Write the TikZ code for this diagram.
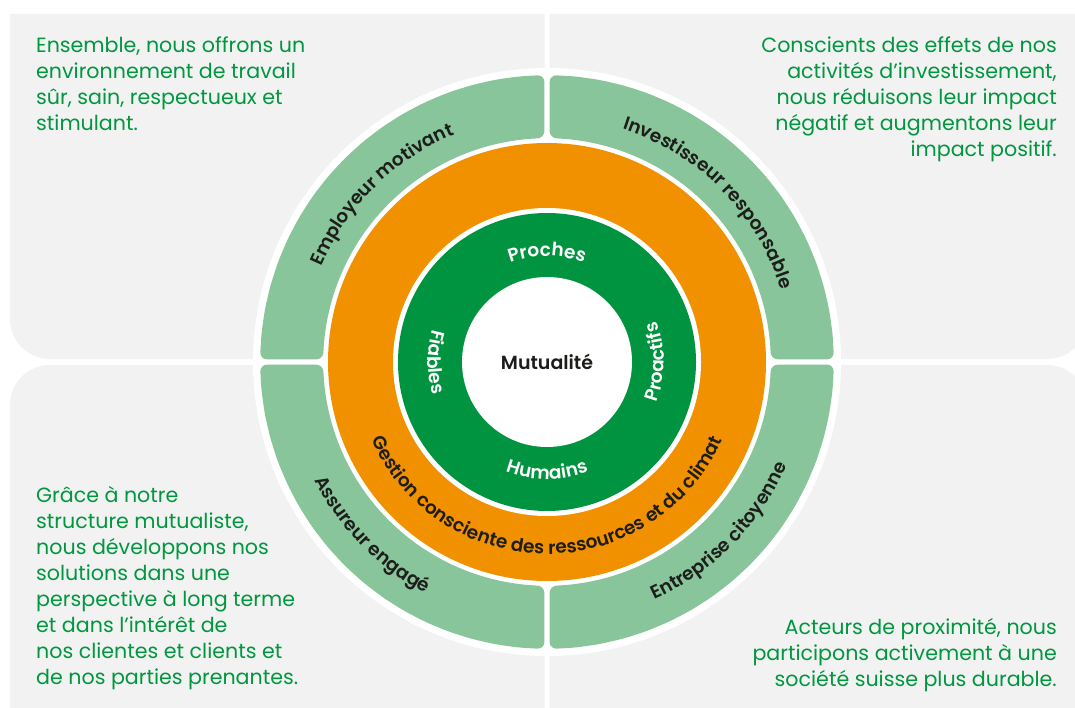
\documentclass[tikz,border=0pt]{standalone}
\usepackage{fontspec}
\setmainfont{Poppins}
\IfFontExistsTF{Poppins SemiBold}{\newfontfamily\semib{Poppins SemiBold}}{%
  \IfFontExistsTF{Poppins Medium}{\newfontfamily\semib{Poppins Medium}}{\newcommand\semib{\bfseries}}}
\usetikzlibrary{decorations.text}
\definecolor{greyq}{HTML}{F2F2F2}
\definecolor{lgreen}{HTML}{88C59A}
\definecolor{dgreen}{HTML}{009440}
\definecolor{orng}{HTML}{F29100}
\definecolor{txtgreen}{HTML}{00973F}
\definecolor{darktxt}{HTML}{1D1D1B}
\newcommand\labfont{\color{darktxt}\semib\fontsize{18.5}{18.5}\selectfont}
\newcommand\ringfont{\color{white}\semib\fontsize{18.5}{18.5}\selectfont}
\newcommand\lgsector[4]{%
  \fill[lgreen, rounded corners=7pt]
    plot[domain=#1:#2, samples=19, variable=\t] ({547+287*cos(\t)},{-362+287*sin(\t)})
    -- plot[domain=#3:#4, samples=19, variable=\t] ({547+224*cos(\t)},{-362+224*sin(\t)})
    -- cycle;}
\begin{document}
\begin{tikzpicture}[x=1pt,y=1pt,
  body/.style={font=\fontsize{20.6}{26}\selectfont, text=txtgreen, inner sep=0pt},
  arctext/.style={decorate, decoration={text along path, text align=center, text={#1}}}]
\useasboundingbox (0,0) rectangle (1075,-708);
\clip (0,0) rectangle (1075,-708);
\fill[white] (0,0) rectangle (1075,-708);
% grey quadrants
\fill[greyq] (544.5,-14) -- (544.5,-359) -- (50,-359) arc[start angle=270, end angle=180, radius=40] -- (10,-14) -- cycle;
\fill[greyq] (549.5,-14) -- (1087,-14) -- (1087,-319) arc[start angle=0, end angle=-90, radius=40] -- (549.5,-359) -- cycle;
\fill[greyq] (544.5,-365) -- (544.5,-720) -- (10,-720) -- (10,-405) arc[start angle=180, end angle=90, radius=40] -- cycle;
\fill[greyq] (549.5,-365) -- (1047,-365) arc[start angle=90, end angle=0, radius=40] -- (1087,-720) -- (549.5,-720) -- cycle;
% rings
\coordinate (C) at (547,-362);
\fill[white] (C) circle[radius=294];
\lgsector{90.52}{179.48}{179.34}{90.66}
\lgsector{0.52}{89.48}{89.34}{0.66}
\lgsector{180.52}{269.48}{269.34}{180.66}
\lgsector{270.52}{359.48}{359.34}{270.66}
\fill[orng] (C) circle[radius=219];
\fill[white] (C) circle[radius=154];
\fill[dgreen] (C) circle[radius=149];
\fill[white] (C) circle[radius=85];
\node[font=\semib\fontsize{19}{19}\selectfont, text=darktxt] (mut) at (C) {Mutualité};
% curved labels
\begin{scope}[shift={(547,-362)}]
\path[arctext={|\labfont|Employeur motivant}] (179.6:245) arc[start angle=179.6, end angle=89.6, radius=245];
\path[arctext={|\labfont|Investisseur responsable}] (104.6:245) arc[start angle=104.6, end angle=-15.4, radius=245];
\path[arctext={|\labfont|Assureur engagé}] (164.6:261) arc[start angle=164.6, end angle=284.6, radius=261];
\path[arctext={|\labfont|Entreprise citoyenne}] (255.5:261) arc[start angle=255.5, end angle=375.5, radius=261];
\path[arctext={|\labfont|Gestion consciente des ressources et du climat}] (170:192) arc[start angle=170, end angle=370, radius=192];
\path[arctext={|\ringfont|Proches}] (150:106) arc[start angle=150, end angle=30, radius=106];
\path[arctext={|\ringfont|Humains}] (210:117) arc[start angle=210, end angle=330, radius=117];
\path[arctext={|\ringfont|Fiables}] (120:119) arc[start angle=120, end angle=240, radius=119];
\path[arctext={|\ringfont|Proactifs}] (-60:117) arc[start angle=-60, end angle=60, radius=117];
\end{scope}
% body texts (anchor on last baseline)
\node[body, anchor=base west, align=left] (tl) at (36,-131) {Ensemble, nous offrons un\\environnement de travail\\sûr, sain, respectueux et\\stimulant.};
\node[body, anchor=base east, align=right] (tr) at (1057,-157) {Conscients des effets de nos\\activités d’investissement,\\nous réduisons leur impact\\négatif et augmentons leur\\impact positif.};
\node[body, anchor=base west, align=left] (bl) at (36,-684) {Grâce à notre\\structure mutualiste,\\nous développons nos\\solutions dans une\\perspective à long terme\\et dans l’intérêt de\\nos clientes et clients et\\de nos parties prenantes.};
\node[body, anchor=base east, align=right] (br) at (1057,-686) {Acteurs de proximité, nous\\participons activement à une\\société suisse plus durable.};
\end{tikzpicture}
\end{document}
